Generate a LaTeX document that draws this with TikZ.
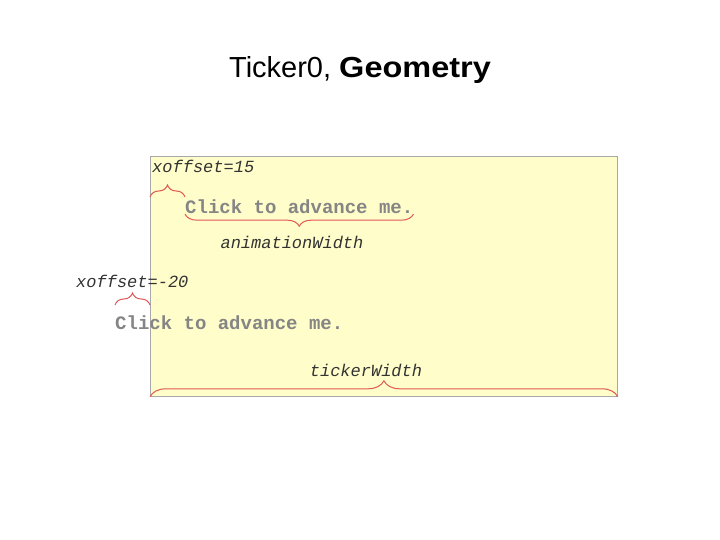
\documentclass[tikz,border=0pt]{standalone}
\usepackage{fontspec}
\setmainfont{Liberation Sans}
\newfontfamily\codefont{Liberation Mono}
\usetikzlibrary{decorations.pathreplacing}
\definecolor{tickbg}{HTML}{FFFDC9}
\definecolor{tickline}{HTML}{A8A8A8}
\definecolor{bracered}{HTML}{E05858}
\definecolor{clickgray}{HTML}{858585}

\tikzset{
  lbl/.style={font=\fontsize{17}{17}\selectfont\codefont\itshape, text=black!80, inner sep=0pt},
  clicktext/.style={font=\fontsize{19}{19}\selectfont\codefont\bfseries, text=clickgray, inner sep=0pt},
  curly/.style={draw=bracered, line width=1pt, decorate, decoration={brace, amplitude=#1}},
  curly/.default=12pt
}

\begin{document}
\begin{tikzpicture}[x=1pt,y=-1pt]
\useasboundingbox (0,0) rectangle (720,540);
\node[anchor=base] (title) at (360,78) {\fontsize{29}{29}\selectfont Ticker0, \scalebox{1.12}[1]{\textbf{Geometry}}};
\node[draw=tickline, line width=0.8pt, fill=tickbg, minimum width=467pt, minimum height=240pt, inner sep=0pt, anchor=north west] (ticker) at (150,156) {};

% first message
\node[lbl, anchor=west] (xoffA) at (152,166) {xoffset=15};
\node[clicktext, anchor=west] (clickA) at (185,207) {Click to advance me.};
\node[lbl] (animW) at (292,242) {animationWidth};
\draw[curly] (ticker.west |- 0,197) -- (clickA.west |- 0,197);
\draw[curly] (clickA.south east) -- (clickA.south west);

% second message
\node[lbl, anchor=west] (xoffB) at (76,281) {xoffset=-20};
\node[clicktext, anchor=west] (clickB) at (115,323) {Click to advance me.};
\draw[curly] (clickB.west |- 0,305) -- (ticker.west |- 0,305);

\node[lbl] (tickW) at (366,370) {tickerWidth};
\draw[curly=16pt] (ticker.south west) -- (ticker.south east);
\end{tikzpicture}
\end{document}
